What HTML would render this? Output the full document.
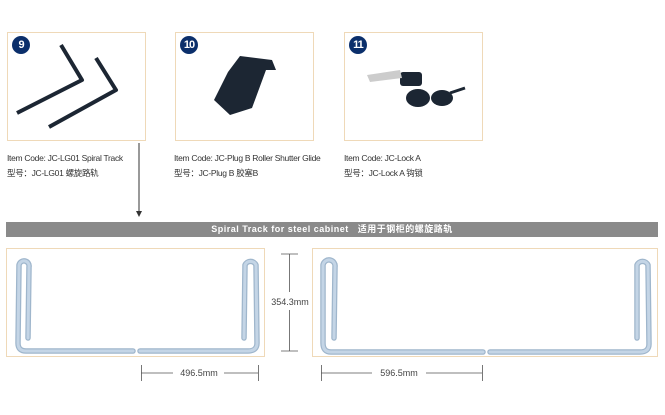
<!DOCTYPE html>
<html><head><meta charset="utf-8"><style>
body{margin:0;width:665px;height:415px;background:#fff;position:relative;overflow:hidden;font-family:"Liberation Sans","Noto Sans CJK SC",sans-serif}
.box{position:absolute;top:32px;width:139px;height:109px;border:1px solid #efd9b8;box-sizing:border-box}
.num{position:absolute;left:4px;top:3px;width:18px;height:18px;border-radius:50%;background:#0b2f6b;color:#fff;font-size:11px;font-weight:bold;text-align:center;line-height:18px;letter-spacing:-1px}
.t{position:absolute;font-size:8.5px;color:#333;line-height:15px;letter-spacing:-0.3px}
</style></head><body>
<div class="box" style="left:7px"><div class="num">9</div></div>
<div class="box" style="left:175px"><div class="num">10</div></div>
<div class="box" style="left:344px"><div class="num">11</div></div>
<div class="t" style="left:7px;top:151px">Item Code: JC-LG01 Spiral Track<br>型号：JC-LG01 螺旋路轨</div>
<div class="t" style="left:174px;top:151px">Item Code: JC-Plug B Roller Shutter Glide<br>型号：JC-Plug B 胶塞B</div>
<div class="t" style="left:344px;top:151px">Item Code: JC-Lock A<br>型号：JC-Lock A 钩锁</div>
<div style="position:absolute;left:6px;top:222px;width:652px;height:15px;background:#8a8a8a;color:#fff;font-size:9px;font-weight:bold;text-align:center;line-height:15px;letter-spacing:0.5px">Spiral Track for steel cabinet &nbsp; 适用于钢柜的螺旋路轨</div>
<svg width="665" height="415" style="position:absolute;left:0;top:0">
<g fill="none" stroke="#1c2633" stroke-width="4" stroke-linejoin="round">
<path d="M61,45 L82,80 L17,113"/>
<path d="M96,58 L116,90 L49,127"/>
</g>
<g fill="#1c2633">
<polygon points="240,56 272,60 276,70 266,70 252,108 230,115 214,100 228,72"/>
<rect x="400" y="72" width="22" height="14" rx="3"/>
<ellipse cx="418" cy="98" rx="12" ry="9"/><ellipse cx="442" cy="98" rx="11" ry="8"/>
<line x1="450" y1="93" x2="465" y2="88" stroke="#1c2633" stroke-width="3"/>
</g>
<polygon points="367,75 400,70 402,78 370,82" fill="#ccc"/>
<line x1="139" y1="143" x2="139" y2="212" stroke="#333" stroke-width="1"/>
<polygon points="136,211 142,211 139,217" fill="#333"/>
<rect x="6.5" y="248.5" width="258" height="108" fill="none" stroke="#efd9b8"/>
<rect x="312.5" y="248.5" width="345" height="108" fill="none" stroke="#efd9b8"/>
<g fill="none" stroke="#9fb6cc" stroke-width="5.5" stroke-linecap="round" stroke-linejoin="round">
<path d="M28,338 L29,267 A5,5 0 0 0 19,265 L18,343 Q18,351 26,351 L133,351"/>
<path d="M140,351 L248,351 Q257,351 257,343 L256,265 A6,6 0 0 0 245,265 L244,338"/>
<path d="M334,338 L335,267 A6,6 0 0 0 323,265 L323,343 Q323,352 331,352 L483,352"/>
<path d="M490,352 L640,352 Q649,352 649,344 L648,265 A6,6 0 0 0 637,265 L637,338"/>
</g>
<g fill="none" stroke="#c4d5e6" stroke-width="3" stroke-linecap="round" stroke-linejoin="round">
<path d="M28,338 L29,267 A5,5 0 0 0 19,265 L18,343 Q18,351 26,351 L133,351"/>
<path d="M140,351 L248,351 Q257,351 257,343 L256,265 A6,6 0 0 0 245,265 L244,338"/>
<path d="M334,338 L335,267 A6,6 0 0 0 323,265 L323,343 Q323,352 331,352 L483,352"/>
<path d="M490,352 L640,352 Q649,352 649,344 L648,265 A6,6 0 0 0 637,265 L637,338"/>
</g>
<g stroke="#555" stroke-width="0.8">
<line x1="281" y1="254" x2="298" y2="254"/><line x1="281" y1="351" x2="298" y2="351"/>
<line x1="289.5" y1="254" x2="289.5" y2="292"/><line x1="289.5" y1="310" x2="289.5" y2="351"/>
<line x1="141.5" y1="365" x2="141.5" y2="381"/><line x1="258.5" y1="365" x2="258.5" y2="381"/>
<line x1="141" y1="373" x2="173" y2="373"/><line x1="224" y1="373" x2="258" y2="373"/>
<line x1="321.5" y1="365" x2="321.5" y2="381"/><line x1="482.5" y1="365" x2="482.5" y2="381"/>
<line x1="321" y1="373" x2="372" y2="373"/><line x1="426" y1="373" x2="482" y2="373"/>
</g>
<g font-family="Liberation Sans, sans-serif" font-size="9" fill="#444" text-anchor="middle">
<text x="290" y="305">354.3mm</text>
<text x="199" y="376">496.5mm</text>
<text x="399" y="376">596.5mm</text>
</g>
</svg>
</body></html>
